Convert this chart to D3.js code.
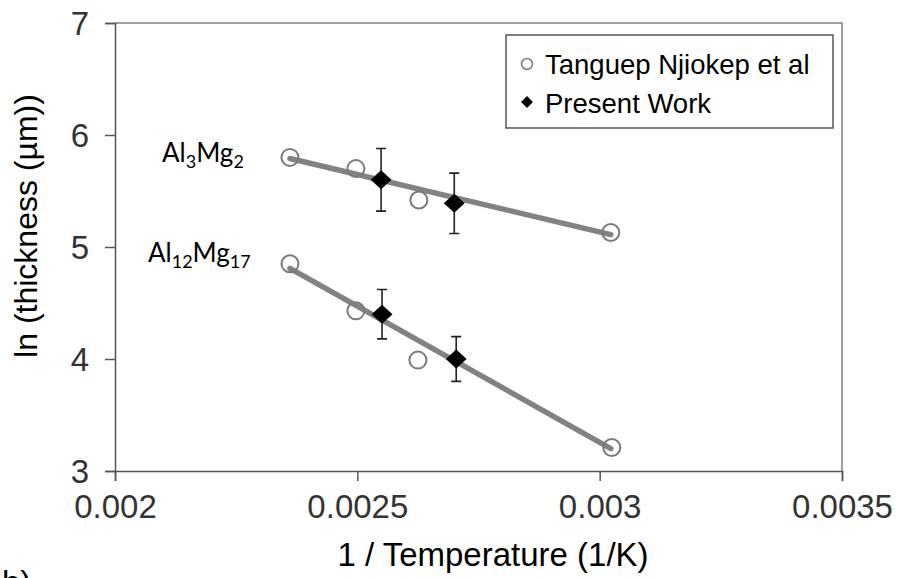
<!DOCTYPE html>
<html><head><meta charset="utf-8">
<script src="https://cdn.jsdelivr.net/npm/d3@7"></script>
<style>body{margin:0;background:#fff}svg{display:block}</style>
</head><body>
<svg id="c" width="897" height="578"></svg>
<script>
// ---- data ----
const xTicks = [0.002, 0.0025, 0.003, 0.0035];
const yTicks = [3, 4, 5, 6, 7];
// Tanguep Njiokep et al (open circles)
const litX_Al3Mg2 = [0.002361, 0.002497, 0.002627, 0.003023];
const litY_Al3Mg2 = [5.80, 5.70, 5.42, 5.13];
const litX_Al12Mg17 = [0.002361, 0.002497, 0.002625, 0.003025];
const litY_Al12Mg17 = [4.85, 4.43, 3.99, 3.21];
// Present work (diamonds with error bars)
const pwX_Al3Mg2 = [0.002549, 0.0027];
const pwY_Al3Mg2 = [5.60, 5.39];
const pwErr_Al3Mg2 = [0.28, 0.27];
const pwX_Al12Mg17 = [0.002551, 0.002704];
const pwY_Al12Mg17 = [4.40, 4.00];
const pwErr_Al12Mg17 = [0.22, 0.20];
// fit lines (endpoints)
const fitX = [0.002361, 0.003023];
const fitY_Al3Mg2 = [5.79, 5.11];
const fitY_Al12Mg17 = [4.81, 3.20];
const legendLabels = ["Tanguep Njiokep et al", "Present Work"];

const svg = d3.select("#c");
const L = 115, R = 842, T = 23, B = 471;
const x = d3.scaleLinear().domain([0.002, 0.0035]).range([L, R]);
const y = d3.scaleLinear().domain([3, 7]).range([B, T]);
const font = "'Liberation Sans', Arial, sans-serif";

// frame (top/right)
svg.append("path").attr("d", `M${L},${T}H${R}V${B}`).attr("fill", "none").attr("stroke", "#808080").attr("stroke-width", 1.5);

// axes
const xa = svg.append("g").attr("transform", `translate(0,${B})`)
  .call(d3.axisBottom(x).tickValues(xTicks).tickFormat(d => String(+d.toFixed(4))).tickSizeOuter(0).tickSize(10).tickPadding(14));
const ya = svg.append("g").attr("transform", `translate(${L},0)`)
  .call(d3.axisLeft(y).tickValues(yTicks).tickFormat(d3.format("d")).tickSizeOuter(0).tickSize(10).tickPadding(16));
[xa, ya].forEach(g => {
  g.select(".domain").attr("stroke", "#555").attr("stroke-width", 1.5);
  g.selectAll(".tick line").attr("stroke", "#555").attr("stroke-width", 1.5);
  g.selectAll(".tick text").attr("font-family", font).attr("font-size", 33).attr("fill", "#333");
});
xa.selectAll(".tick text").attr("dy", "0.71em");
ya.selectAll(".tick text").attr("dy", "0.36em");

// axis titles
svg.append("text").attr("x", 493).attr("y", 566).attr("text-anchor", "middle")
  .attr("font-family", font).attr("font-size", 33).attr("fill", "#000").text("1 / Temperature (1/K)");
svg.append("text").attr("transform", "translate(37,226) rotate(-90)").attr("text-anchor", "middle")
  .attr("font-family", font).attr("font-size", 32).attr("fill", "#000").text("ln (thickness (µm))");

// partial panel label
svg.append("text").attr("x", 2).attr("y", 594).attr("font-family", font).attr("font-size", 33).text("b)");

// fit lines
const line = d3.line().x(d => x(d[0])).y(d => y(d[1]));
[fitY_Al3Mg2, fitY_Al12Mg17].forEach(fy => {
  svg.append("path").datum(fitX.map((v, i) => [v, fy[i]])).attr("d", line)
    .attr("fill", "none").attr("stroke", "#828282").attr("stroke-width", 5.5).attr("stroke-linecap", "round");
});

// literature circles
[[litX_Al3Mg2, litY_Al3Mg2], [litX_Al12Mg17, litY_Al12Mg17]].forEach(([xs, ys]) => {
  svg.append("g").selectAll("circle").data(xs.map((v, i) => [v, ys[i]])).join("circle")
    .attr("cx", d => x(d[0])).attr("cy", d => y(d[1])).attr("r", 8.5)
    .attr("fill", "none").attr("stroke", "#7a7a7a").attr("stroke-width", 2);
});

// present work: error bars + diamonds
const diamond = d3.symbol().type(d3.symbolDiamond2).size(230);
[[pwX_Al3Mg2, pwY_Al3Mg2, pwErr_Al3Mg2], [pwX_Al12Mg17, pwY_Al12Mg17, pwErr_Al12Mg17]].forEach(([xs, ys, es]) => {
  const data = xs.map((v, i) => ({x: v, y: ys[i], e: es[i]}));
  const g = svg.append("g");
  g.selectAll("path.eb").data(data).join("path").attr("class", "eb")
    .attr("d", d => {
      const cx = x(d.x), t = y(d.y + d.e), b = y(d.y - d.e);
      return `M${cx},${t}V${b}M${cx - 5},${t}H${cx + 5}M${cx - 5},${b}H${cx + 5}`;
    })
    .attr("fill", "none").attr("stroke", "#222").attr("stroke-width", 1.6);
  g.selectAll("path.dm").data(data).join("path").attr("class", "dm")
    .attr("transform", d => `translate(${x(d.x)},${y(d.y)}) scale(1.1,1)`)
    .attr("d", diamond).attr("fill", "#000");
});

// phase labels
function phaseLabel(px, py, parts) {
  const t = svg.append("text").attr("x", px).attr("y", py)
    .attr("font-family", "Lato, 'Open Sans', sans-serif").attr("font-size", 26).attr("fill", "#000");
  parts.forEach(([s, sub]) => {
    const ts = t.append("tspan").text(s);
    if (sub) ts.attr("font-size", 18).attr("dy", 6); else ts.attr("dy", 0);
  });
  // reset baseline after subscripts
  t.selectAll("tspan").each(function(d, i, n) {
    const prevSub = i > 0 && parts[i - 1][1];
    const cur = parts[i][1];
    d3.select(this).attr("dy", cur && !prevSub ? 6 : (!cur && prevSub ? -6 : 0));
  });
}
phaseLabel(162, 162, [["Al", false], ["3", true], ["Mg", false], ["2", true]]);
phaseLabel(148, 262, [["Al", false], ["12", true], ["Mg", false], ["17", true]]);

// legend
svg.append("rect").attr("x", 506).attr("y", 35).attr("width", 327).attr("height", 93)
  .attr("fill", "#fff").attr("stroke", "#555").attr("stroke-width", 1.5);
svg.append("circle").attr("cx", 527).attr("cy", 64).attr("r", 5.5)
  .attr("fill", "none").attr("stroke", "#7a7a7a").attr("stroke-width", 1.5);
svg.append("path").attr("transform", "translate(527,102)").attr("d", d3.symbol().type(d3.symbolDiamond2).size(90)).attr("fill", "#000");
legendLabels.forEach((s, i) => {
  svg.append("text").attr("x", 545).attr("y", 74 + i * 39)
    .attr("font-family", font).attr("font-size", 27.5).attr("fill", "#000").text(s);
});
</script>
</body></html>
